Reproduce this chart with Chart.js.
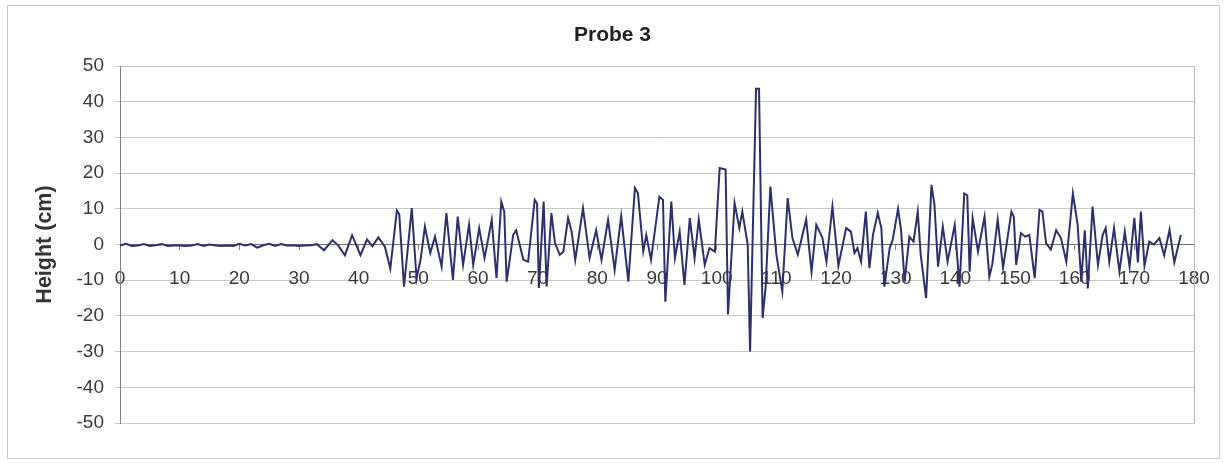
<!DOCTYPE html>
<html><head><meta charset="utf-8">
<script src="https://cdn.jsdelivr.net/npm/chart.js@4.4.1/dist/chart.umd.min.js"></script>
<style>html,body{margin:0;padding:0;background:#fff}#wrap{width:1225px;height:463px;position:relative}</style>
</head><body><div id="wrap"><canvas id="c" width="1225" height="463"></canvas></div>
<script>
const chartTitle = "Probe 3";
const yAxisTitle = "Height (cm)";
const xTickValues = [0,10,20,30,40,50,60,70,80,90,100,110,120,130,140,150,160,170,180];
const yTickValues = [-50,-40,-30,-20,-10,0,10,20,30,40,50];

const distance = [
  0,1,2,3,4,5,6,7,8,9,10,11,12,13,14,15,16,17,18,19,20,21,22,23,24,25,26,27,28,29,30,31,32,33,
  34.2,35.6,36.6,37.7,38.9,40.3,41.4,42.3,43.3,44.4,45.3,46.4,46.8,47.6,48.9,49.7,50.4,51.1,52.0,52.8,
  53.9,54.7,55.8,56.6,57.5,58.5,59.2,60.2,61.1,62.3,63.1,63.9,64.4,64.8,65.9,66.4,67.6,68.4,
  69.5,69.9,70.2,71.0,71.5,72.3,72.9,73.7,74.3,75.1,75.7,76.3,77.6,78.7,79.8,80.7,81.8,82.9,84.0,85.2,
  86.3,86.8,87.7,88.2,89.0,90.4,91.0,91.4,92.4,93.0,93.8,94.6,95.5,96.3,97.0,98.0,98.8,99.7,
  100.5,101.5,101.9,103.0,103.8,104.3,105.2,105.6,106.6,107.1,107.7,108.2,109.0,110.0,111.0,111.9,
  112.7,113.6,115.0,115.9,116.7,117.7,118.4,119.4,120.4,121.7,122.5,123.1,123.6,124.2,125.0,125.6,
  126.2,127.0,127.6,128.1,129.0,129.5,130.4,130.9,131.5,132.3,133.0,133.7,134.2,135.1,136.0,136.5,
  137.1,137.9,138.7,139.9,140.7,141.5,142.0,142.4,142.9,143.8,144.9,145.7,146.2,147.1,148.0,149.4,
  149.8,150.2,151.0,151.7,152.4,153.3,154.1,154.6,155.2,156.0,156.9,157.7,158.6,159.7,160.5,161.1,
  161.7,162.2,163.0,163.9,164.7,165.2,165.8,166.6,167.5,168.4,169.2,170.0,170.6,171.1,171.7,172.5,
  173.3,174.2,175.0,175.9,176.7,177.8
];
const heightCm = [
  -0.3,0.2,-0.4,-0.3,0.1,-0.4,-0.2,0.1,-0.4,-0.3,-0.3,-0.4,-0.3,0.1,-0.4,0.0,-0.3,-0.4,-0.3,-0.4,0.2,-0.3,0.1,-0.9,-0.2,0.2,-0.4,0.1,-0.3,-0.2,-0.4,-0.3,-0.2,0.1,
  -1.6,1.2,-0.3,-3.0,2.6,-3.0,1.4,-0.5,2.0,-0.6,-6.8,9.5,8.5,-11.8,10.2,-9.6,-4.0,5.0,-2.4,2.2,
  -6.2,8.8,-9.9,7.8,-5.7,5.6,-5.7,4.6,-3.8,6.9,-9.4,12.0,9.2,-10.4,2.7,4.0,-4.3,-4.8,
  12.5,11.5,-12.2,12.0,-11.8,8.8,0.4,-2.9,-2.0,7.4,3.6,-4.3,10.2,-3.8,4.0,-4.3,6.9,-7.1,7.9,-10.4,
  15.8,14.4,-1.9,2.7,-4.3,13.4,12.5,-16.0,12.0,-3.8,3.6,-11.3,7.4,-3.8,7.0,-5.7,-1.0,-2.0,
  21.4,21.0,-19.6,11.6,4.6,9.2,0.0,-30.0,43.6,43.6,-20.6,-12.0,16.2,-2.8,-13.2,13.0,
  1.8,-2.8,7.0,-7.6,5.5,2.0,-4.8,10.6,-6.0,4.6,3.6,-2.4,-1.0,-4.8,9.2,-6.6,
  2.7,8.8,4.6,-11.8,-1.0,1.3,10.0,4.0,-10.4,2.2,0.8,9.2,-2.9,-15.0,16.7,11.1,
  -6.2,5.0,-4.8,5.5,-11.8,14.3,13.8,-7.6,7.4,-2.0,7.8,-9.0,-5.5,7.0,-6.6,9.2,
  7.8,-5.7,3.2,2.2,2.7,-9.4,9.7,9.2,0.4,-1.4,4.0,1.8,-4.8,14.3,5.5,-10.4,
  4.0,-12.3,10.6,-5.7,2.7,4.6,-4.8,4.6,-7.6,3.6,-6.2,7.5,-5.0,9.2,-6.0,0.8,
  0.0,1.8,-3.0,4.1,-5.0,2.7
];

const frames = {
  id: 'frames',
  beforeDraw(chart) {
    const ctx = chart.ctx;
    ctx.save();
    ctx.fillStyle = '#ffffff';
    ctx.fillRect(0, 0, chart.width, chart.height);
    ctx.strokeStyle = '#c8c8c8';
    ctx.lineWidth = 1;
    ctx.strokeRect(7.5, 5.5, 1212, 453);
    ctx.restore();
  }
};

const baseFont = 'Liberation Sans, Arial, sans-serif';

new Chart(document.getElementById('c'), {
  type: 'line',
  data: {
    datasets: [{
      label: yAxisTitle,
      data: distance.map((x, i) => ({x: x, y: heightCm[i]})),
      borderColor: '#2e2f6e',
      borderWidth: 2,
      pointRadius: 0,
      tension: 0,
      fill: false,
      yAxisID: 'y'
    }]
  },
  options: {
    responsive: false,
    animation: false,
    devicePixelRatio: 1,
    layout: {padding: {left: 0, right: 0, top: 0, bottom: 40}},
    plugins: {
      legend: {display: false},
      tooltip: {enabled: false},
      title: {
        display: true,
        text: chartTitle,
        color: '#222',
        font: {family: baseFont, size: 21, weight: 'bold'},
        padding: {top: 23, bottom: 17.8}
      }
    },
    scales: {
      x: {
        type: 'linear',
        min: 0, max: 180,
        position: {y: 0},
        afterBuildTicks: s => { s.ticks = xTickValues.map(v => ({value: v})); },
        afterFit: s => { s.paddingLeft = 0; s.paddingRight = 0; },
        ticks: {
          color: '#3a3a3a',
          font: {family: baseFont, size: 19},
          padding: 18,
          maxRotation: 0,
          autoSkip: false
        },
        grid: {drawOnChartArea: false, drawTicks: true, tickLength: 5, color: '#808080'},
        border: {display: true, color: '#707070', width: 1}
      },
      y: {
        type: 'linear',
        position: 'left',
        min: -50, max: 50,
        afterBuildTicks: s => { s.ticks = yTickValues.map(v => ({value: v})); },
        afterFit: s => { s.width = 120; },
        ticks: {
          color: '#3a3a3a',
          font: {family: baseFont, size: 19},
          padding: 11
        },
        grid: {color: '#c8c8c8', tickLength: 5, drawTicks: true},
        border: {display: true, color: '#808080', width: 1},
        title: {
          display: true,
          text: yAxisTitle,
          color: '#333',
          font: {family: baseFont, size: 21.5, weight: 'bold'},
          padding: {top: 32, bottom: 0}
        }
      },
      yRight: {
        type: 'linear',
        position: 'right',
        min: -50, max: 50,
        afterFit: s => { s.width = 31; },
        ticks: {display: false},
        grid: {drawOnChartArea: false, drawTicks: false},
        border: {display: true, color: '#b8b8b8', width: 1}
      }
    }
  },
  plugins: [frames]
});
</script></body></html>
